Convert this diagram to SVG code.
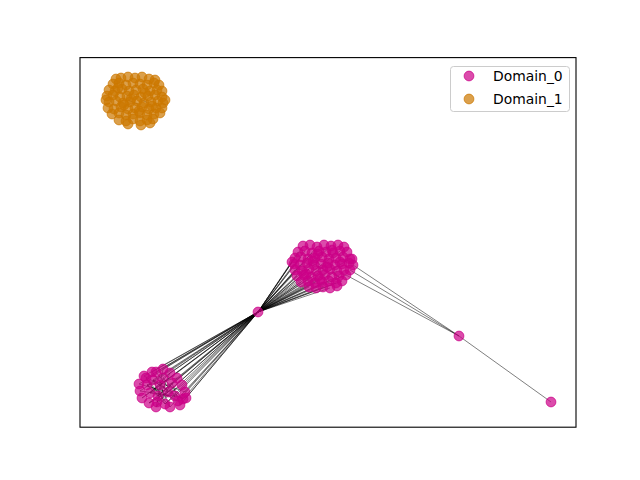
<svg xmlns="http://www.w3.org/2000/svg" xmlns:xlink="http://www.w3.org/1999/xlink" width="640" height="480" viewBox="0 0 640 480">
<style>
.e{stroke:#000;stroke-opacity:.5;stroke-width:1}
.d0{fill:#cc0088;stroke:#cc0088;fill-opacity:.7;stroke-opacity:.7;stroke-width:1}
.d1{fill:#cc7700;stroke:#cc7700;fill-opacity:.7;stroke-opacity:.7;stroke-width:1}
text{font-family:"DejaVu Sans",sans-serif;font-size:13.9px;fill:#000}
</style>
<defs><circle id="c" r="4.9"/></defs>
<rect x="0" y="0" width="640" height="480" fill="#fff"/>
<g id="edges">
<line class="e" x1="258" y1="312" x2="303" y2="246"/><line class="e" x1="258" y1="312" x2="298" y2="252"/><line class="e" x1="258" y1="312" x2="305" y2="251"/><line class="e" x1="258" y1="312" x2="312" y2="253"/><line class="e" x1="258" y1="312" x2="295" y2="258"/><line class="e" x1="258" y1="312" x2="301" y2="257"/><line class="e" x1="258" y1="312" x2="308" y2="259"/><line class="e" x1="258" y1="312" x2="315" y2="258"/><line class="e" x1="258" y1="312" x2="294" y2="264"/><line class="e" x1="258" y1="312" x2="300" y2="265"/><line class="e" x1="258" y1="312" x2="314" y2="265"/><line class="e" x1="258" y1="312" x2="328" y2="263"/><line class="e" x1="258" y1="312" x2="295" y2="270"/><line class="e" x1="258" y1="312" x2="309" y2="269"/><line class="e" x1="258" y1="312" x2="323" y2="270"/><line class="e" x1="258" y1="312" x2="337" y2="271"/><line class="e" x1="258" y1="312" x2="297" y2="276"/><line class="e" x1="258" y1="312" x2="311" y2="277"/><line class="e" x1="258" y1="312" x2="325" y2="275"/><line class="e" x1="258" y1="312" x2="339" y2="276"/><line class="e" x1="258" y1="312" x2="301" y2="282"/><line class="e" x1="258" y1="312" x2="315" y2="283"/><line class="e" x1="258" y1="312" x2="329" y2="281"/><line class="e" x1="258" y1="312" x2="342" y2="281"/><line class="e" x1="258" y1="312" x2="309" y2="287"/><line class="e" x1="258" y1="312" x2="323" y2="287"/><line class="e" x1="258" y1="312" x2="330" y2="288"/><line class="e" x1="258" y1="312" x2="317" y2="247"/><line class="e" x1="258" y1="312" x2="331" y2="246"/><line class="e" x1="258" y1="312" x2="340" y2="251"/><line class="e" x1="258" y1="312" x2="350" y2="259"/><line class="e" x1="258" y1="312" x2="346" y2="275"/><line class="e" x1="258" y1="312" x2="306" y2="274"/><line class="e" x1="258" y1="312" x2="320" y2="279"/><line class="e" x1="258" y1="312" x2="292" y2="262"/><line class="e" x1="258" y1="312" x2="336" y2="283"/><line class="e" x1="258" y1="312" x2="318" y2="276"/>
<line class="e" x1="258" y1="312" x2="144" y2="376"/><line class="e" x1="258" y1="312" x2="152" y2="372"/><line class="e" x1="258" y1="312" x2="163" y2="369"/><line class="e" x1="258" y1="312" x2="170" y2="373"/><line class="e" x1="258" y1="312" x2="177" y2="378"/><line class="e" x1="258" y1="312" x2="182" y2="385"/><line class="e" x1="258" y1="312" x2="185" y2="392"/><line class="e" x1="258" y1="312" x2="183" y2="399"/><line class="e" x1="258" y1="312" x2="180" y2="405"/><line class="e" x1="258" y1="312" x2="170" y2="407"/><line class="e" x1="258" y1="312" x2="165" y2="404"/><line class="e" x1="258" y1="312" x2="156" y2="407"/><line class="e" x1="258" y1="312" x2="149" y2="403"/><line class="e" x1="258" y1="312" x2="142" y2="398"/><line class="e" x1="258" y1="312" x2="140" y2="391"/><line class="e" x1="258" y1="312" x2="139" y2="384"/><line class="e" x1="258" y1="312" x2="147" y2="385"/><line class="e" x1="258" y1="312" x2="153" y2="380"/><line class="e" x1="258" y1="312" x2="160" y2="385"/><line class="e" x1="258" y1="312" x2="168" y2="392"/><line class="e" x1="258" y1="312" x2="158" y2="396"/><line class="e" x1="258" y1="312" x2="175" y2="396"/><line class="e" x1="258" y1="312" x2="150" y2="393"/><line class="e" x1="258" y1="312" x2="172" y2="383"/><line class="e" x1="258" y1="312" x2="163" y2="378"/><line class="e" x1="258" y1="312" x2="178" y2="401"/><line class="e" x1="258" y1="312" x2="146" y2="378"/><line class="e" x1="258" y1="312" x2="156" y2="372"/><line class="e" x1="258" y1="312" x2="186" y2="398"/><line class="e" x1="258" y1="312" x2="157" y2="402"/>
<line class="e" x1="144" y1="376" x2="160" y2="385"/><line class="e" x1="152" y1="372" x2="168" y2="392"/><line class="e" x1="163" y1="369" x2="158" y2="396"/><line class="e" x1="170" y1="373" x2="150" y2="393"/><line class="e" x1="177" y1="378" x2="147" y2="385"/><line class="e" x1="182" y1="385" x2="157" y2="402"/><line class="e" x1="185" y1="392" x2="153" y2="380"/><line class="e" x1="183" y1="399" x2="163" y2="378"/><line class="e" x1="180" y1="405" x2="172" y2="383"/><line class="e" x1="170" y1="407" x2="146" y2="378"/><line class="e" x1="165" y1="404" x2="175" y2="396"/><line class="e" x1="156" y1="407" x2="172" y2="383"/><line class="e" x1="149" y1="403" x2="168" y2="392"/><line class="e" x1="142" y1="398" x2="160" y2="385"/><line class="e" x1="140" y1="391" x2="175" y2="396"/><line class="e" x1="139" y1="384" x2="168" y2="392"/><line class="e" x1="147" y1="385" x2="178" y2="401"/><line class="e" x1="153" y1="380" x2="165" y2="404"/><line class="e" x1="160" y1="385" x2="183" y2="399"/><line class="e" x1="158" y1="396" x2="177" y2="378"/><line class="e" x1="150" y1="393" x2="172" y2="383"/><line class="e" x1="163" y1="378" x2="156" y2="407"/><line class="e" x1="146" y1="378" x2="158" y2="396"/><line class="e" x1="156" y1="372" x2="175" y2="396"/><line class="e" x1="186" y1="398" x2="150" y2="393"/><line class="e" x1="157" y1="402" x2="170" y2="373"/><line class="e" x1="168" y1="392" x2="149" y2="403"/><line class="e" x1="160" y1="385" x2="170" y2="407"/><line class="e" x1="153" y1="380" x2="175" y2="396"/><line class="e" x1="147" y1="385" x2="165" y2="404"/>
<line class="e" x1="315" y1="258" x2="320" y2="265"/><line class="e" x1="333" y1="272" x2="340" y2="278"/><line class="e" x1="310" y1="262" x2="325" y2="270"/><line class="e" x1="128" y1="100" x2="138" y2="104"/><line class="e" x1="140" y1="99" x2="148" y2="103"/>
<line class="e" x1="353" y1="265" x2="459" y2="336"/><line class="e" x1="350" y1="270" x2="459" y2="336"/><line class="e" x1="346" y1="275" x2="459" y2="336"/><line class="e" x1="459" y1="336" x2="551" y2="402"/>
</g>
<g id="domain1" class="d1">
<use href="#c" x="121" y="78"/><use href="#c" x="128" y="77"/><use href="#c" x="135" y="78"/><use href="#c" x="142" y="77"/><use href="#c" x="149" y="79"/><use href="#c" x="155" y="80"/><use href="#c" x="116" y="79"/>
<use href="#c" x="113" y="84"/><use href="#c" x="119" y="83"/><use href="#c" x="126" y="85"/><use href="#c" x="133" y="83"/><use href="#c" x="140" y="84"/><use href="#c" x="147" y="85"/><use href="#c" x="154" y="83"/><use href="#c" x="159" y="85"/>
<use href="#c" x="109" y="90"/><use href="#c" x="115" y="91"/><use href="#c" x="122" y="89"/><use href="#c" x="129" y="91"/><use href="#c" x="136" y="90"/><use href="#c" x="143" y="89"/><use href="#c" x="150" y="91"/><use href="#c" x="157" y="90"/><use href="#c" x="162" y="91"/>
<use href="#c" x="107" y="96"/><use href="#c" x="113" y="95"/><use href="#c" x="120" y="97"/><use href="#c" x="127" y="96"/><use href="#c" x="134" y="95"/><use href="#c" x="141" y="97"/><use href="#c" x="148" y="96"/><use href="#c" x="155" y="95"/><use href="#c" x="162" y="97"/>
<use href="#c" x="109" y="102"/><use href="#c" x="116" y="101"/><use href="#c" x="123" y="103"/><use href="#c" x="130" y="102"/><use href="#c" x="137" y="101"/><use href="#c" x="144" y="103"/><use href="#c" x="151" y="102"/><use href="#c" x="158" y="101"/><use href="#c" x="163" y="103"/>
<use href="#c" x="108" y="108"/><use href="#c" x="114" y="109"/><use href="#c" x="121" y="107"/><use href="#c" x="128" y="109"/><use href="#c" x="135" y="108"/><use href="#c" x="142" y="107"/><use href="#c" x="149" y="109"/><use href="#c" x="156" y="108"/><use href="#c" x="162" y="108"/>
<use href="#c" x="112" y="114"/><use href="#c" x="119" y="113"/><use href="#c" x="126" y="115"/><use href="#c" x="133" y="114"/><use href="#c" x="140" y="113"/><use href="#c" x="147" y="115"/><use href="#c" x="154" y="114"/><use href="#c" x="160" y="113"/>
<use href="#c" x="119" y="120"/><use href="#c" x="126" y="121"/><use href="#c" x="133" y="119"/><use href="#c" x="140" y="121"/><use href="#c" x="147" y="120"/><use href="#c" x="153" y="119"/>
<use href="#c" x="128" y="124"/><use href="#c" x="141" y="125"/><use href="#c" x="150" y="123"/><use href="#c" x="106" y="100"/><use href="#c" x="165" y="100"/>
<use href="#c" x="131" y="99"/><use href="#c" x="145" y="93"/><use href="#c" x="124" y="105"/><use href="#c" x="139" y="111"/><use href="#c" x="152" y="106"/><use href="#c" x="118" y="88"/>
</g>
<g id="domain0" class="d0">
<use href="#c" x="303" y="246"/><use href="#c" x="310" y="245"/><use href="#c" x="317" y="247"/><use href="#c" x="324" y="245"/><use href="#c" x="331" y="246"/><use href="#c" x="338" y="245"/><use href="#c" x="344" y="247"/>
<use href="#c" x="298" y="252"/><use href="#c" x="305" y="251"/><use href="#c" x="312" y="253"/><use href="#c" x="319" y="251"/><use href="#c" x="326" y="252"/><use href="#c" x="333" y="253"/><use href="#c" x="340" y="251"/><use href="#c" x="347" y="252"/>
<use href="#c" x="295" y="258"/><use href="#c" x="301" y="257"/><use href="#c" x="308" y="259"/><use href="#c" x="315" y="258"/><use href="#c" x="322" y="257"/><use href="#c" x="329" y="259"/><use href="#c" x="336" y="258"/><use href="#c" x="343" y="257"/><use href="#c" x="350" y="259"/>
<use href="#c" x="294" y="264"/><use href="#c" x="300" y="265"/><use href="#c" x="307" y="263"/><use href="#c" x="314" y="265"/><use href="#c" x="321" y="264"/><use href="#c" x="328" y="263"/><use href="#c" x="335" y="265"/><use href="#c" x="342" y="264"/><use href="#c" x="349" y="263"/><use href="#c" x="353" y="265"/>
<use href="#c" x="295" y="270"/><use href="#c" x="302" y="271"/><use href="#c" x="309" y="269"/><use href="#c" x="316" y="271"/><use href="#c" x="323" y="270"/><use href="#c" x="330" y="269"/><use href="#c" x="337" y="271"/><use href="#c" x="344" y="270"/><use href="#c" x="350" y="270"/>
<use href="#c" x="297" y="276"/><use href="#c" x="304" y="275"/><use href="#c" x="311" y="277"/><use href="#c" x="318" y="276"/><use href="#c" x="325" y="275"/><use href="#c" x="332" y="277"/><use href="#c" x="339" y="276"/><use href="#c" x="346" y="275"/>
<use href="#c" x="301" y="282"/><use href="#c" x="308" y="281"/><use href="#c" x="315" y="283"/><use href="#c" x="322" y="282"/><use href="#c" x="329" y="281"/><use href="#c" x="336" y="283"/><use href="#c" x="342" y="281"/>
<use href="#c" x="309" y="287"/><use href="#c" x="316" y="288"/><use href="#c" x="323" y="287"/><use href="#c" x="330" y="288"/><use href="#c" x="337" y="286"/>
<use href="#c" x="313" y="261"/><use href="#c" x="327" y="267"/><use href="#c" x="340" y="262"/><use href="#c" x="320" y="279"/><use href="#c" x="306" y="274"/><use href="#c" x="332" y="250"/><use href="#c" x="318" y="254"/><use href="#c" x="352" y="259"/><use href="#c" x="292" y="262"/>
<use href="#c" x="144" y="376"/><use href="#c" x="152" y="372"/><use href="#c" x="163" y="369"/><use href="#c" x="170" y="373"/><use href="#c" x="177" y="378"/><use href="#c" x="182" y="385"/><use href="#c" x="185" y="392"/><use href="#c" x="183" y="399"/><use href="#c" x="180" y="405"/><use href="#c" x="170" y="407"/><use href="#c" x="165" y="404"/><use href="#c" x="156" y="407"/><use href="#c" x="149" y="403"/><use href="#c" x="142" y="398"/><use href="#c" x="140" y="391"/><use href="#c" x="139" y="384"/><use href="#c" x="147" y="385"/><use href="#c" x="153" y="380"/><use href="#c" x="160" y="385"/><use href="#c" x="168" y="392"/><use href="#c" x="158" y="396"/><use href="#c" x="175" y="396"/><use href="#c" x="150" y="393"/><use href="#c" x="172" y="383"/><use href="#c" x="163" y="378"/><use href="#c" x="178" y="401"/><use href="#c" x="146" y="378"/><use href="#c" x="156" y="372"/><use href="#c" x="186" y="398"/><use href="#c" x="157" y="402"/>
<use id="hub" href="#c" x="258" y="312"/><use id="bridge" href="#c" x="459" y="336"/><use id="leaf" href="#c" x="551" y="402"/>
</g>
<rect id="axes" x="80" y="57.6" width="496" height="369.6" fill="none" stroke="#000" stroke-width="1.1"/>
<g id="legend">
<rect x="450.5" y="66.5" width="119" height="45" rx="3" fill="#fff" fill-opacity=".8" stroke="#ccc" stroke-width="1"/>
<use class="d0" href="#c" x="469" y="76"/>
<use class="d1" href="#c" x="469" y="99"/>
<text x="493" y="81">Domain_0</text>
<text x="493" y="104">Domain_1</text>
</g>
</svg>
